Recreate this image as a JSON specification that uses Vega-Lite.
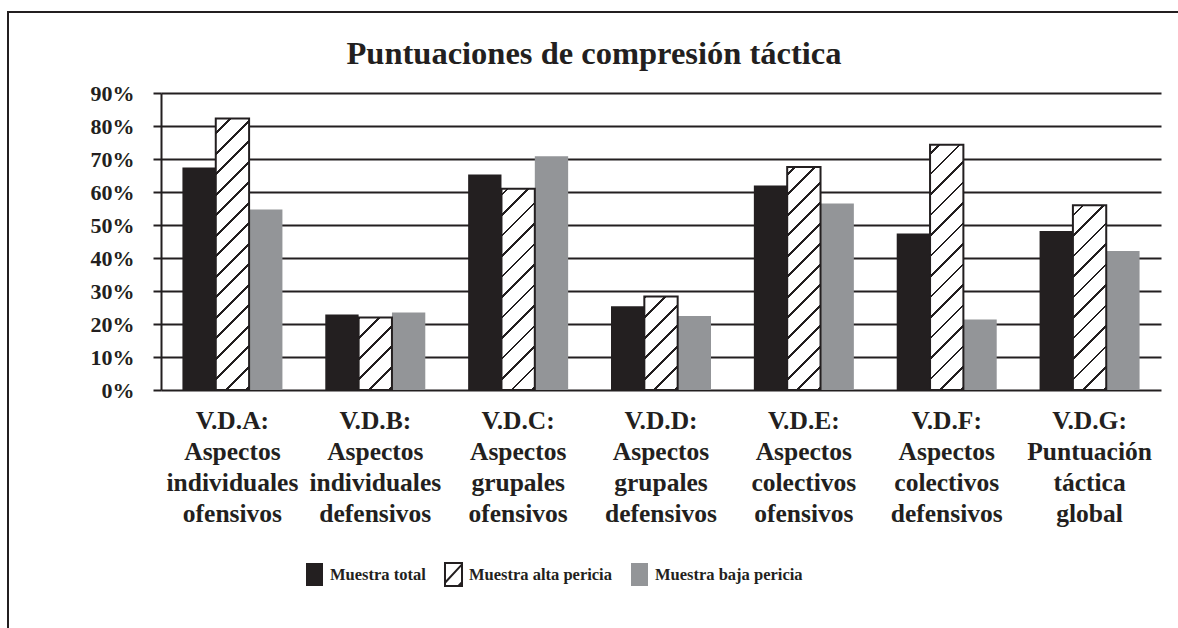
{
  "$schema": "https://vega.github.io/schema/vega-lite/v6.json",
  "width": 1000,
  "height": 297,
  "autosize": {"type": "none"},
  "padding": {"left": 161, "top": 93, "right": 17, "bottom": 238},
  "background": "#ffffff",
  "title": {
    "text": "Puntuaciones de compresión táctica",
    "font": "Liberation Serif",
    "fontSize": 32.5,
    "fontWeight": "bold",
    "color": "#231f20",
    "anchor": "middle",
    "baseline": "alphabetic",
    "dx": -67,
    "offset": -85
  },
  "data": {
    "values": [
      {"clave": "A", "grupo": "V.D.A:|Aspectos|individuales|ofensivos", "muestra": "Muestra total", "valor": 0.674},
      {"clave": "A", "grupo": "V.D.A:|Aspectos|individuales|ofensivos", "muestra": "Muestra alta pericia", "valor": 0.823},
      {"clave": "A", "grupo": "V.D.A:|Aspectos|individuales|ofensivos", "muestra": "Muestra baja pericia", "valor": 0.547},
      {"clave": "B", "grupo": "V.D.B:|Aspectos|individuales|defensivos", "muestra": "Muestra total", "valor": 0.229},
      {"clave": "B", "grupo": "V.D.B:|Aspectos|individuales|defensivos", "muestra": "Muestra alta pericia", "valor": 0.22},
      {"clave": "B", "grupo": "V.D.B:|Aspectos|individuales|defensivos", "muestra": "Muestra baja pericia", "valor": 0.235},
      {"clave": "C", "grupo": "V.D.C:|Aspectos|grupales|ofensivos", "muestra": "Muestra total", "valor": 0.653},
      {"clave": "C", "grupo": "V.D.C:|Aspectos|grupales|ofensivos", "muestra": "Muestra alta pericia", "valor": 0.61},
      {"clave": "C", "grupo": "V.D.C:|Aspectos|grupales|ofensivos", "muestra": "Muestra baja pericia", "valor": 0.708},
      {"clave": "D", "grupo": "V.D.D:|Aspectos|grupales|defensivos", "muestra": "Muestra total", "valor": 0.254},
      {"clave": "D", "grupo": "V.D.D:|Aspectos|grupales|defensivos", "muestra": "Muestra alta pericia", "valor": 0.283},
      {"clave": "D", "grupo": "V.D.D:|Aspectos|grupales|defensivos", "muestra": "Muestra baja pericia", "valor": 0.224},
      {"clave": "E", "grupo": "V.D.E:|Aspectos|colectivos|ofensivos", "muestra": "Muestra total", "valor": 0.62},
      {"clave": "E", "grupo": "V.D.E:|Aspectos|colectivos|ofensivos", "muestra": "Muestra alta pericia", "valor": 0.676},
      {"clave": "E", "grupo": "V.D.E:|Aspectos|colectivos|ofensivos", "muestra": "Muestra baja pericia", "valor": 0.565},
      {"clave": "F", "grupo": "V.D.F:|Aspectos|colectivos|defensivos", "muestra": "Muestra total", "valor": 0.474},
      {"clave": "F", "grupo": "V.D.F:|Aspectos|colectivos|defensivos", "muestra": "Muestra alta pericia", "valor": 0.743},
      {"clave": "F", "grupo": "V.D.F:|Aspectos|colectivos|defensivos", "muestra": "Muestra baja pericia", "valor": 0.214},
      {"clave": "G", "grupo": "V.D.G:|Puntuación|táctica|global", "muestra": "Muestra total", "valor": 0.482},
      {"clave": "G", "grupo": "V.D.G:|Puntuación|táctica|global", "muestra": "Muestra alta pericia", "valor": 0.56},
      {"clave": "G", "grupo": "V.D.G:|Puntuación|táctica|global", "muestra": "Muestra baja pericia", "valor": 0.421}
    ]
  },
  "encoding": {
    "x": {
      "field": "grupo",
      "type": "nominal",
      "sort": null,
      "scale": {"paddingInner": 0.3, "paddingOuter": 0.15},
      "axis": {
        "title": null,
        "domain": false,
        "ticks": false,
        "grid": false,
        "labelAngle": 0,
        "labelAlign": "center",
        "labelBaseline": "alphabetic",
        "labelPadding": 38,
        "labelLineHeight": 31,
        "labelFont": "Liberation Serif",
        "labelFontSize": 25.5,
        "labelFontWeight": "bold",
        "labelColor": "#231f20",
        "labelLimit": 0,
        "labelExpr": "split(datum.label, '|')"
      }
    },
    "xOffset": {
      "field": "muestra",
      "type": "nominal",
      "sort": ["Muestra total", "Muestra alta pericia", "Muestra baja pericia"],
      "scale": {"domain": ["Muestra total", "Muestra alta pericia", "Muestra baja pericia"], "paddingInner": 0, "paddingOuter": 0}
    },
    "y": {
      "field": "valor",
      "type": "quantitative",
      "scale": {"domain": [0, 0.9], "nice": false},
      "axis": {
        "title": null,
        "values": [0, 0.1, 0.2, 0.3, 0.4, 0.5, 0.6, 0.7, 0.8, 0.9],
        "format": ".0%",
        "grid": true,
        "gridColor": "#231f20",
        "gridWidth": 2,
        "gridOpacity": 1,
        "domainColor": "#231f20",
        "domainWidth": 2,
        "tickColor": "#231f20",
        "tickWidth": 2,
        "tickSize": 8,
        "labelPadding": 19,
        "labelFont": "Liberation Serif",
        "labelFontSize": 22,
        "labelFontWeight": "bold",
        "labelColor": "#231f20"
      }
    }
  },
  "layer": [
    {
      "mark": {"type": "bar"},
      "encoding": {
        "color": {
          "field": "muestra",
          "type": "nominal",
          "scale": {
            "domain": ["Muestra total", "Muestra alta pericia", "Muestra baja pericia"],
            "range": ["#231f20", "#ffffff", "#939598"]
          },
          "legend": {
            "orient": "none",
            "legendX": 141,
            "legendY": 469,
            "direction": "horizontal",
            "columns": 3,
            "title": null,
            "padding": 0,
            "symbolType": "M-0.74,-1H0.74V1H-0.74Z",
            "symbolSize": 529,
            "labelFont": "Liberation Serif",
            "labelFontSize": 16.5,
            "labelFontWeight": "bold",
            "labelColor": "#231f20",
            "labelOffset": 3,
            "columnPadding": 14,
            "encode": {
              "symbols": {
                "update": {
                  "shape": [
                    {"test": "datum.value === 'Muestra alta pericia'", "value": "M-0.74,-1H0.74V1H-0.74Z M-0.74,0.72L0.74,-0.88 M0.42,1L0.74,0.68"},
                    {"value": "M-0.74,-1H0.74V1H-0.74Z"}
                  ],
                  "stroke": [
                    {"test": "datum.value === 'Muestra alta pericia'", "value": "#231f20"},
                    {"value": "transparent"}
                  ],
                  "strokeWidth": {"value": 2},
                  "opacity": {"value": 1}
                }
              }
            }
          }
        }
      }
    },
    {
      "transform": [{"filter": "datum.muestra === 'Muestra alta pericia'"}],
      "mark": {"type": "bar", "stroke": "#231f20", "strokeWidth": 2},
      "encoding": {
        "opacity": {
          "datum": "marco",
          "type": "nominal",
          "scale": {"range": [1, 1]},
          "legend": {
            "orient": "none",
            "legendX": -153,
            "legendY": -81,
            "padding": 1200,
            "strokeColor": "#231f20",
            "title": null,
            "labelExpr": "''",
            "labelOpacity": 0,
            "symbolOpacity": 0,
            "symbolSize": 1,
            "labelFontSize": 1
          }
        },
        "fill": {
          "condition": [
            {"test": "datum.clave === 'A'", "value": {"gradient": "linear", "x1": 0, "y1": 0, "x2": 0.1357, "y2": 1.1061, "stops": [
              {"offset": 0, "color": "#ffffff"},
              {"offset": 0.04493, "color": "#ffffff"}, {"offset": 0.04493, "color": "#231f20"}, {"offset": 0.05411, "color": "#231f20"}, {"offset": 0.05411, "color": "#ffffff"},
              {"offset": 0.11216, "color": "#ffffff"}, {"offset": 0.11216, "color": "#231f20"}, {"offset": 0.12134, "color": "#231f20"}, {"offset": 0.12134, "color": "#ffffff"},
              {"offset": 0.17939, "color": "#ffffff"}, {"offset": 0.17939, "color": "#231f20"}, {"offset": 0.18857, "color": "#231f20"}, {"offset": 0.18857, "color": "#ffffff"},
              {"offset": 0.24662, "color": "#ffffff"}, {"offset": 0.24662, "color": "#231f20"}, {"offset": 0.2558, "color": "#231f20"}, {"offset": 0.2558, "color": "#ffffff"},
              {"offset": 0.31385, "color": "#ffffff"}, {"offset": 0.31385, "color": "#231f20"}, {"offset": 0.32303, "color": "#231f20"}, {"offset": 0.32303, "color": "#ffffff"},
              {"offset": 0.38108, "color": "#ffffff"}, {"offset": 0.38108, "color": "#231f20"}, {"offset": 0.39026, "color": "#231f20"}, {"offset": 0.39026, "color": "#ffffff"},
              {"offset": 0.44831, "color": "#ffffff"}, {"offset": 0.44831, "color": "#231f20"}, {"offset": 0.45749, "color": "#231f20"}, {"offset": 0.45749, "color": "#ffffff"},
              {"offset": 0.51554, "color": "#ffffff"}, {"offset": 0.51554, "color": "#231f20"}, {"offset": 0.52472, "color": "#231f20"}, {"offset": 0.52472, "color": "#ffffff"},
              {"offset": 0.58277, "color": "#ffffff"}, {"offset": 0.58277, "color": "#231f20"}, {"offset": 0.59195, "color": "#231f20"}, {"offset": 0.59195, "color": "#ffffff"},
              {"offset": 0.65, "color": "#ffffff"}, {"offset": 0.65, "color": "#231f20"}, {"offset": 0.65918, "color": "#231f20"}, {"offset": 0.65918, "color": "#ffffff"},
              {"offset": 0.71723, "color": "#ffffff"}, {"offset": 0.71723, "color": "#231f20"}, {"offset": 0.72641, "color": "#231f20"}, {"offset": 0.72641, "color": "#ffffff"},
              {"offset": 0.78446, "color": "#ffffff"}, {"offset": 0.78446, "color": "#231f20"}, {"offset": 0.79364, "color": "#231f20"}, {"offset": 0.79364, "color": "#ffffff"},
              {"offset": 0.85169, "color": "#ffffff"}, {"offset": 0.85169, "color": "#231f20"}, {"offset": 0.86087, "color": "#231f20"}, {"offset": 0.86087, "color": "#ffffff"},
              {"offset": 0.91892, "color": "#ffffff"}, {"offset": 0.91892, "color": "#231f20"}, {"offset": 0.9281, "color": "#231f20"}, {"offset": 0.9281, "color": "#ffffff"},
              {"offset": 0.98615, "color": "#ffffff"}, {"offset": 0.98615, "color": "#231f20"}, {"offset": 0.99533, "color": "#231f20"}, {"offset": 0.99533, "color": "#ffffff"},
              {"offset": 1, "color": "#ffffff"}]}},
            {"test": "datum.clave === 'B'", "value": {"gradient": "linear", "x1": 0, "y1": 0, "x2": 0.5532, "y2": 1.205, "stops": [
              {"offset": 0, "color": "#231f20"}, {"offset": 0.01888, "color": "#231f20"}, {"offset": 0.01888, "color": "#ffffff"},
              {"offset": 0.18597, "color": "#ffffff"}, {"offset": 0.18597, "color": "#231f20"}, {"offset": 0.21241, "color": "#231f20"}, {"offset": 0.21241, "color": "#ffffff"},
              {"offset": 0.3795, "color": "#ffffff"}, {"offset": 0.3795, "color": "#231f20"}, {"offset": 0.40593, "color": "#231f20"}, {"offset": 0.40593, "color": "#ffffff"},
              {"offset": 0.57302, "color": "#ffffff"}, {"offset": 0.57302, "color": "#231f20"}, {"offset": 0.59945, "color": "#231f20"}, {"offset": 0.59945, "color": "#ffffff"},
              {"offset": 0.76654, "color": "#ffffff"}, {"offset": 0.76654, "color": "#231f20"}, {"offset": 0.79298, "color": "#231f20"}, {"offset": 0.79298, "color": "#ffffff"},
              {"offset": 0.96007, "color": "#ffffff"}, {"offset": 0.96007, "color": "#231f20"}, {"offset": 0.9865, "color": "#231f20"}, {"offset": 0.9865, "color": "#ffffff"},
              {"offset": 1, "color": "#ffffff"}]}},
            {"test": "datum.clave === 'C'", "value": {"gradient": "linear", "x1": 0, "y1": 0, "x2": 0.18784, "y2": 1.13447, "stops": [
              {"offset": 0, "color": "#ffffff"},
              {"offset": 0.02088, "color": "#ffffff"}, {"offset": 0.02088, "color": "#231f20"}, {"offset": 0.03282, "color": "#231f20"}, {"offset": 0.03282, "color": "#ffffff"},
              {"offset": 0.10826, "color": "#ffffff"}, {"offset": 0.10826, "color": "#231f20"}, {"offset": 0.12019, "color": "#231f20"}, {"offset": 0.12019, "color": "#ffffff"},
              {"offset": 0.19563, "color": "#ffffff"}, {"offset": 0.19563, "color": "#231f20"}, {"offset": 0.20756, "color": "#231f20"}, {"offset": 0.20756, "color": "#ffffff"},
              {"offset": 0.283, "color": "#ffffff"}, {"offset": 0.283, "color": "#231f20"}, {"offset": 0.29493, "color": "#231f20"}, {"offset": 0.29493, "color": "#ffffff"},
              {"offset": 0.37037, "color": "#ffffff"}, {"offset": 0.37037, "color": "#231f20"}, {"offset": 0.38231, "color": "#231f20"}, {"offset": 0.38231, "color": "#ffffff"},
              {"offset": 0.45774, "color": "#ffffff"}, {"offset": 0.45774, "color": "#231f20"}, {"offset": 0.46968, "color": "#231f20"}, {"offset": 0.46968, "color": "#ffffff"},
              {"offset": 0.54512, "color": "#ffffff"}, {"offset": 0.54512, "color": "#231f20"}, {"offset": 0.55705, "color": "#231f20"}, {"offset": 0.55705, "color": "#ffffff"},
              {"offset": 0.63249, "color": "#ffffff"}, {"offset": 0.63249, "color": "#231f20"}, {"offset": 0.64442, "color": "#231f20"}, {"offset": 0.64442, "color": "#ffffff"},
              {"offset": 0.71986, "color": "#ffffff"}, {"offset": 0.71986, "color": "#231f20"}, {"offset": 0.73179, "color": "#231f20"}, {"offset": 0.73179, "color": "#ffffff"},
              {"offset": 0.80723, "color": "#ffffff"}, {"offset": 0.80723, "color": "#231f20"}, {"offset": 0.81917, "color": "#231f20"}, {"offset": 0.81917, "color": "#ffffff"},
              {"offset": 0.8946, "color": "#ffffff"}, {"offset": 0.8946, "color": "#231f20"}, {"offset": 0.90654, "color": "#231f20"}, {"offset": 0.90654, "color": "#ffffff"},
              {"offset": 0.98198, "color": "#ffffff"}, {"offset": 0.98198, "color": "#231f20"}, {"offset": 0.99391, "color": "#231f20"}, {"offset": 0.99391, "color": "#ffffff"},
              {"offset": 1, "color": "#ffffff"}]}},
            {"test": "datum.clave === 'D'", "value": {"gradient": "linear", "x1": 0, "y1": 0, "x2": 0.4295, "y2": 1.20355, "stops": [
              {"offset": 0, "color": "#231f20"}, {"offset": 0.01815, "color": "#231f20"}, {"offset": 0.01815, "color": "#ffffff"},
              {"offset": 0.15781, "color": "#ffffff"}, {"offset": 0.15781, "color": "#231f20"}, {"offset": 0.17991, "color": "#231f20"}, {"offset": 0.17991, "color": "#ffffff"},
              {"offset": 0.31957, "color": "#ffffff"}, {"offset": 0.31957, "color": "#231f20"}, {"offset": 0.34167, "color": "#231f20"}, {"offset": 0.34167, "color": "#ffffff"},
              {"offset": 0.48134, "color": "#ffffff"}, {"offset": 0.48134, "color": "#231f20"}, {"offset": 0.50344, "color": "#231f20"}, {"offset": 0.50344, "color": "#ffffff"},
              {"offset": 0.6431, "color": "#ffffff"}, {"offset": 0.6431, "color": "#231f20"}, {"offset": 0.6652, "color": "#231f20"}, {"offset": 0.6652, "color": "#ffffff"},
              {"offset": 0.80486, "color": "#ffffff"}, {"offset": 0.80486, "color": "#231f20"}, {"offset": 0.82696, "color": "#231f20"}, {"offset": 0.82696, "color": "#ffffff"},
              {"offset": 0.96662, "color": "#ffffff"}, {"offset": 0.96662, "color": "#231f20"}, {"offset": 0.98872, "color": "#231f20"}, {"offset": 0.98872, "color": "#ffffff"},
              {"offset": 1, "color": "#ffffff"}]}},
            {"test": "datum.clave === 'E'", "value": {"gradient": "linear", "x1": 0, "y1": 0, "x2": 0.16797, "y2": 1.1243, "stops": [
              {"offset": 0, "color": "#ffffff"},
              {"offset": 0.02418, "color": "#ffffff"}, {"offset": 0.02418, "color": "#231f20"}, {"offset": 0.0351, "color": "#231f20"}, {"offset": 0.0351, "color": "#ffffff"},
              {"offset": 0.10412, "color": "#ffffff"}, {"offset": 0.10412, "color": "#231f20"}, {"offset": 0.11504, "color": "#231f20"}, {"offset": 0.11504, "color": "#ffffff"},
              {"offset": 0.18407, "color": "#ffffff"}, {"offset": 0.18407, "color": "#231f20"}, {"offset": 0.19499, "color": "#231f20"}, {"offset": 0.19499, "color": "#ffffff"},
              {"offset": 0.26401, "color": "#ffffff"}, {"offset": 0.26401, "color": "#231f20"}, {"offset": 0.27493, "color": "#231f20"}, {"offset": 0.27493, "color": "#ffffff"},
              {"offset": 0.34395, "color": "#ffffff"}, {"offset": 0.34395, "color": "#231f20"}, {"offset": 0.35487, "color": "#231f20"}, {"offset": 0.35487, "color": "#ffffff"},
              {"offset": 0.4239, "color": "#ffffff"}, {"offset": 0.4239, "color": "#231f20"}, {"offset": 0.43482, "color": "#231f20"}, {"offset": 0.43482, "color": "#ffffff"},
              {"offset": 0.50384, "color": "#ffffff"}, {"offset": 0.50384, "color": "#231f20"}, {"offset": 0.51476, "color": "#231f20"}, {"offset": 0.51476, "color": "#ffffff"},
              {"offset": 0.58379, "color": "#ffffff"}, {"offset": 0.58379, "color": "#231f20"}, {"offset": 0.59471, "color": "#231f20"}, {"offset": 0.59471, "color": "#ffffff"},
              {"offset": 0.66373, "color": "#ffffff"}, {"offset": 0.66373, "color": "#231f20"}, {"offset": 0.67465, "color": "#231f20"}, {"offset": 0.67465, "color": "#ffffff"},
              {"offset": 0.74367, "color": "#ffffff"}, {"offset": 0.74367, "color": "#231f20"}, {"offset": 0.75459, "color": "#231f20"}, {"offset": 0.75459, "color": "#ffffff"},
              {"offset": 0.82362, "color": "#ffffff"}, {"offset": 0.82362, "color": "#231f20"}, {"offset": 0.83454, "color": "#231f20"}, {"offset": 0.83454, "color": "#ffffff"},
              {"offset": 0.90356, "color": "#ffffff"}, {"offset": 0.90356, "color": "#231f20"}, {"offset": 0.91448, "color": "#231f20"}, {"offset": 0.91448, "color": "#ffffff"},
              {"offset": 0.98351, "color": "#ffffff"}, {"offset": 0.98351, "color": "#231f20"}, {"offset": 0.99443, "color": "#231f20"}, {"offset": 0.99443, "color": "#ffffff"},
              {"offset": 1, "color": "#ffffff"}]}},
            {"test": "datum.clave === 'F'", "value": {"gradient": "linear", "x1": 0, "y1": 0, "x2": 0.15161, "y2": 1.11532, "stops": [
              {"offset": 0, "color": "#ffffff"},
              {"offset": 0.028, "color": "#ffffff"}, {"offset": 0.028, "color": "#231f20"}, {"offset": 0.03806, "color": "#231f20"}, {"offset": 0.03806, "color": "#ffffff"},
              {"offset": 0.1016, "color": "#ffffff"}, {"offset": 0.1016, "color": "#231f20"}, {"offset": 0.11166, "color": "#231f20"}, {"offset": 0.11166, "color": "#ffffff"},
              {"offset": 0.1752, "color": "#ffffff"}, {"offset": 0.1752, "color": "#231f20"}, {"offset": 0.18526, "color": "#231f20"}, {"offset": 0.18526, "color": "#ffffff"},
              {"offset": 0.2488, "color": "#ffffff"}, {"offset": 0.2488, "color": "#231f20"}, {"offset": 0.25886, "color": "#231f20"}, {"offset": 0.25886, "color": "#ffffff"},
              {"offset": 0.3224, "color": "#ffffff"}, {"offset": 0.3224, "color": "#231f20"}, {"offset": 0.33246, "color": "#231f20"}, {"offset": 0.33246, "color": "#ffffff"},
              {"offset": 0.396, "color": "#ffffff"}, {"offset": 0.396, "color": "#231f20"}, {"offset": 0.40606, "color": "#231f20"}, {"offset": 0.40606, "color": "#ffffff"},
              {"offset": 0.4696, "color": "#ffffff"}, {"offset": 0.4696, "color": "#231f20"}, {"offset": 0.47966, "color": "#231f20"}, {"offset": 0.47966, "color": "#ffffff"},
              {"offset": 0.5432, "color": "#ffffff"}, {"offset": 0.5432, "color": "#231f20"}, {"offset": 0.55326, "color": "#231f20"}, {"offset": 0.55326, "color": "#ffffff"},
              {"offset": 0.6168, "color": "#ffffff"}, {"offset": 0.6168, "color": "#231f20"}, {"offset": 0.62686, "color": "#231f20"}, {"offset": 0.62686, "color": "#ffffff"},
              {"offset": 0.6904, "color": "#ffffff"}, {"offset": 0.6904, "color": "#231f20"}, {"offset": 0.70046, "color": "#231f20"}, {"offset": 0.70046, "color": "#ffffff"},
              {"offset": 0.764, "color": "#ffffff"}, {"offset": 0.764, "color": "#231f20"}, {"offset": 0.77406, "color": "#231f20"}, {"offset": 0.77406, "color": "#ffffff"},
              {"offset": 0.8376, "color": "#ffffff"}, {"offset": 0.8376, "color": "#231f20"}, {"offset": 0.84766, "color": "#231f20"}, {"offset": 0.84766, "color": "#ffffff"},
              {"offset": 0.9112, "color": "#ffffff"}, {"offset": 0.9112, "color": "#231f20"}, {"offset": 0.92126, "color": "#231f20"}, {"offset": 0.92126, "color": "#ffffff"},
              {"offset": 0.9848, "color": "#ffffff"}, {"offset": 0.9848, "color": "#231f20"}, {"offset": 0.99486, "color": "#231f20"}, {"offset": 0.99486, "color": "#ffffff"},
              {"offset": 1, "color": "#ffffff"}]}},
            {"test": "datum.clave === 'G'", "value": {"gradient": "linear", "x1": 0, "y1": 0, "x2": 0.20618, "y2": 1.14316, "stops": [
              {"offset": 0, "color": "#ffffff"},
              {"offset": 0.0408, "color": "#ffffff"}, {"offset": 0.0408, "color": "#231f20"}, {"offset": 0.05364, "color": "#231f20"}, {"offset": 0.05364, "color": "#ffffff"},
              {"offset": 0.13478, "color": "#ffffff"}, {"offset": 0.13478, "color": "#231f20"}, {"offset": 0.14762, "color": "#231f20"}, {"offset": 0.14762, "color": "#ffffff"},
              {"offset": 0.22876, "color": "#ffffff"}, {"offset": 0.22876, "color": "#231f20"}, {"offset": 0.2416, "color": "#231f20"}, {"offset": 0.2416, "color": "#ffffff"},
              {"offset": 0.32274, "color": "#ffffff"}, {"offset": 0.32274, "color": "#231f20"}, {"offset": 0.33558, "color": "#231f20"}, {"offset": 0.33558, "color": "#ffffff"},
              {"offset": 0.41672, "color": "#ffffff"}, {"offset": 0.41672, "color": "#231f20"}, {"offset": 0.42956, "color": "#231f20"}, {"offset": 0.42956, "color": "#ffffff"},
              {"offset": 0.5107, "color": "#ffffff"}, {"offset": 0.5107, "color": "#231f20"}, {"offset": 0.52354, "color": "#231f20"}, {"offset": 0.52354, "color": "#ffffff"},
              {"offset": 0.60468, "color": "#ffffff"}, {"offset": 0.60468, "color": "#231f20"}, {"offset": 0.61752, "color": "#231f20"}, {"offset": 0.61752, "color": "#ffffff"},
              {"offset": 0.69866, "color": "#ffffff"}, {"offset": 0.69866, "color": "#231f20"}, {"offset": 0.7115, "color": "#231f20"}, {"offset": 0.7115, "color": "#ffffff"},
              {"offset": 0.79264, "color": "#ffffff"}, {"offset": 0.79264, "color": "#231f20"}, {"offset": 0.80548, "color": "#231f20"}, {"offset": 0.80548, "color": "#ffffff"},
              {"offset": 0.88662, "color": "#ffffff"}, {"offset": 0.88662, "color": "#231f20"}, {"offset": 0.89946, "color": "#231f20"}, {"offset": 0.89946, "color": "#ffffff"},
              {"offset": 0.9806, "color": "#ffffff"}, {"offset": 0.9806, "color": "#231f20"}, {"offset": 0.99344, "color": "#231f20"}, {"offset": 0.99344, "color": "#ffffff"},
              {"offset": 1, "color": "#ffffff"}]}}
          ],
          "value": "#ffffff"
        }
      }
    }
  ],
  "config": {
    "view": {"stroke": null},
    "font": "Liberation Serif",
    "legend": {"strokeWidth": 2}
  }
}
